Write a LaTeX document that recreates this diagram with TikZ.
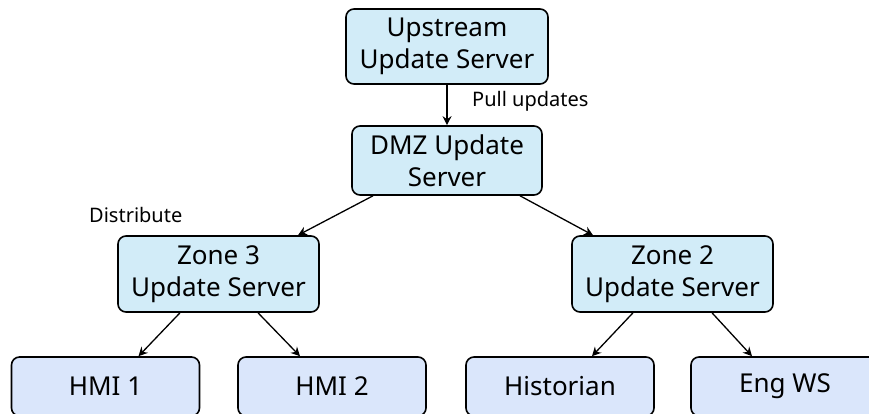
\documentclass[tikz,border=0pt]{standalone}
\usepackage{fontspec}
\setmainfont{Noto Sans}
\usetikzlibrary{arrows.meta}
\definecolor{topfill}{HTML}{D2ECF8}
\definecolor{botfill}{HTML}{DAE6FB}
\tikzset{
  srv/.style={draw=black, line width=1.6pt, rounded corners=8pt, fill=topfill, inner sep=0pt, align=center,
    font=\fontsize{26}{32}\selectfont},
  leaf/.style={draw=black, line width=1.6pt, rounded corners=8pt, fill=botfill, inner sep=0pt, align=center,
    minimum width=188pt, minimum height=59pt, font=\fontsize{26}{32}\selectfont},
  lbl/.style={anchor=west, inner sep=0pt, font=\fontsize{20}{24}\selectfont},
  arr/.style={line width=1.3pt, -{Stealth[length=9pt,width=9pt,inset=3pt]}}
}
\begin{document}
\begin{tikzpicture}[x=1pt,y=1pt]
\useasboundingbox (0,0) rectangle (869,414);
\clip (0,0) rectangle (869,414);
\node[srv, minimum width=202pt, minimum height=75pt] (up) at (447,367.5) {Upstream\\Update Server};
\node[srv, minimum width=190pt, minimum height=69pt] (dmz) at (447,253.5) {DMZ Update\\Server};
\node[srv, minimum width=201pt, minimum height=76pt] (z3) at (218.5,140) {Zone 3\\Update Server};
\node[srv, minimum width=201pt, minimum height=76pt] (z2) at (672.5,140) {Zone 2\\Update Server};
\node[leaf] (h1) at (105.5,27.5) {HMI 1};
\node[leaf] (h2) at (332,27.5) {HMI 2};
\node[leaf] (hist) at (560,27.5) {Historian};
\node[leaf] (eng) at (785,27.5) {Eng WS};
\node[lbl] (pull) at (472,313) {Pull updates};
\node[lbl] (dist) at (89,199) {Distribute};
\draw[arr] (up.south) -- (dmz.north);
\draw[arr] ([xshift=-74pt]dmz.south) -- ([xshift=79.5pt]z3.north);
\draw[arr] ([xshift=73pt]dmz.south) -- ([xshift=-79.5pt]z2.north);
\draw[arr] ([xshift=-38.5pt]z3.south) -- ([xshift=33pt]h1.north);
\draw[arr] ([xshift=39.5pt]z3.south) -- ([xshift=-32pt]h2.north);
\draw[arr] ([xshift=-39.5pt]z2.south) -- ([xshift=32pt]hist.north);
\draw[arr] ([xshift=39.5pt]z2.south) -- ([xshift=-33pt]eng.north);
\end{tikzpicture}
\end{document}
